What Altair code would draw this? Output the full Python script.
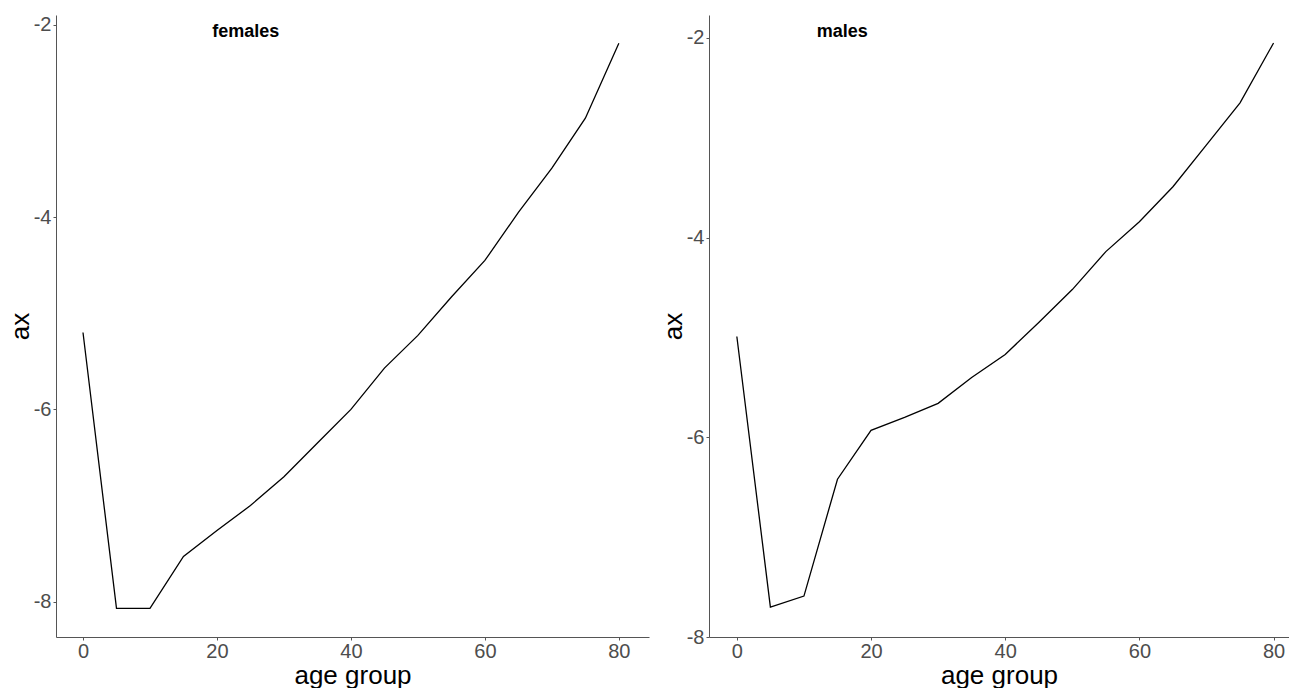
import altair as alt
import pandas as pd

# ---- data ----
ages = [0, 5, 10, 15, 20, 25, 30, 35, 40, 45, 50, 55, 60, 65, 70, 75, 80]
females_ax = [-5.20, -8.07, -8.07, -7.53, -7.26, -7.00, -6.70, -6.35, -6.00,
              -5.57, -5.23, -4.83, -4.45, -3.95, -3.49, -2.97, -2.19]
males_ax = [-4.99, -7.70, -7.59, -6.42, -5.93, -5.80, -5.66, -5.40, -5.17,
            -4.85, -4.52, -4.14, -3.84, -3.49, -3.07, -2.65, -2.05]
x_ticks = [0, 20, 40, 60, 80]
y_ticks = [-8, -6, -4, -2]
panel_labels = ["females", "males"]
label_x = [24.3, 15.7]
label_y = [-2.07, -1.94]

FONT = "Liberation Sans"


def panel(vals, label, lx, ly, xdom, ydom, w):
    df = pd.DataFrame({"age": ages, "ax": vals})
    x = alt.X("age:Q", scale=alt.Scale(domain=xdom, nice=False, zero=False),
              axis=alt.Axis(values=x_ticks, title="age group",
                            labelExpr="'' + datum.value",
                            labelPadding=1, titlePadding=1))
    y = alt.Y("ax:Q", scale=alt.Scale(domain=ydom, nice=False, zero=False),
              axis=alt.Axis(values=y_ticks, title="ax",
                            labelExpr="'' + datum.value"))
    line = alt.Chart(df).mark_line(color="black", strokeWidth=1.3).encode(x=x, y=y)
    tdf = pd.DataFrame({"age": [lx], "ax": [ly], "t": [label]})
    txt = alt.Chart(tdf).mark_text(fontWeight="bold", fontSize=18, font=FONT,
                                   color="black").encode(x=x, y=y, text="t:N")
    return alt.layer(line, txt).properties(width=w, height=622)


left = panel(females_ax, panel_labels[0], label_x[0], label_y[0],
             [-4.03, 84.5], [-8.368, -1.896], 593)
right = panel(males_ax, panel_labels[1], label_x[1], label_y[1],
              [-4.15, 82.3], [-8.0, -1.77], 580)

chart = alt.hconcat(left, right, spacing=11).resolve_scale(
    x="independent", y="independent"
).properties(
    background="white",
    padding={"left": 7, "top": 14, "right": 0, "bottom": 0}
).configure_view(stroke=None).configure_axis(
    grid=False,
    domainColor="#555555",
    domainWidth=1,
    tickColor="#555555",
    tickSize=3,
    labelColor="#4d4d4d",
    labelFont=FONT,
    labelFontSize=20,
    labelPadding=2,
    titleFont=FONT,
    titleFontSize=26,
    titleFontWeight="normal",
    titleColor="black",
    titlePadding=0,
)

chart.save("out.html", embed_options={"renderer": "svg", "actions": False})
